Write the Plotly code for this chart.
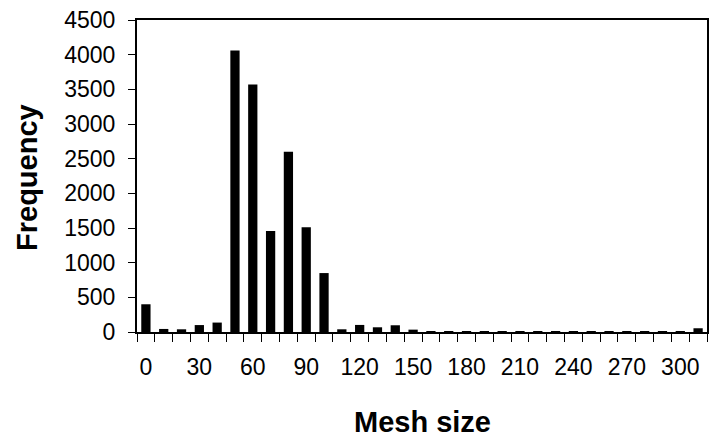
import plotly.graph_objects as go

categories = [str(v) for v in range(0, 310, 10)] + ["More"]
frequency = [400, 44, 39, 100, 136, 4060, 3570, 1455, 2600, 1510, 850,
             39, 102, 68, 97, 34,
             8, 10, 12, 8, 10, 12, 8, 10, 12, 10, 8, 6, 6, 5, 5,
             54]
tick_labels = ["0", "30", "60", "90", "120", "150", "180", "210", "240", "270", "300"]
y_ticks = list(range(0, 5000, 500))

x_pos = list(range(len(categories)))
tick_pos = [categories.index(t) for t in tick_labels]

fig = go.Figure(go.Bar(x=x_pos, y=frequency, marker=dict(color="black", line=dict(width=0)),
                       hovertext=categories))

font_family = "Liberation Sans, Arial, sans-serif"
fig.update_layout(
    width=710, height=437,
    margin=dict(l=137, r=3, t=20, b=105, autoexpand=False),
    plot_bgcolor="white", paper_bgcolor="white",
    bargap=0.48,
    showlegend=False,
    font=dict(family=font_family, color="black", size=23),
)
fig.update_xaxes(
    range=[-0.5, len(categories) - 0.5],
    tickmode="array", tickvals=tick_pos, ticktext=tick_labels,
    ticks="", ticklabelstandoff=14,
    tickfont=dict(size=23, family=font_family, color="black"),
    minor=dict(tick0=-0.5, dtick=1, ticks="outside", ticklen=8, tickcolor="black", tickwidth=1.2),
    showline=True, linecolor="black", linewidth=1.5, mirror=True,
    showgrid=False, zeroline=False, automargin=False,
)
fig.update_yaxes(
    range=[0, 4500],
    tickmode="array", tickvals=y_ticks,
    ticks="outside", ticklen=7, tickcolor="black", tickwidth=1.2,
    ticklabelstandoff=8,
    tickfont=dict(size=23, family=font_family, color="black"),
    showline=True, linecolor="black", linewidth=2, mirror=True,
    showgrid=False, zeroline=False, automargin=False,
)
fig.add_annotation(text="<b>Mesh size</b>", xref="paper", yref="paper",
                   x=(422 - 137) / 570, y=-(422 - 332) / 312, xanchor="center", yanchor="middle",
                   showarrow=False, font=dict(size=29, family=font_family, color="black"))
fig.add_annotation(text="<b>Frequency</b>", xref="paper", yref="paper",
                   x=-(137 - 27) / 570, y=(332 - 178) / 312, xanchor="center", yanchor="middle",
                   textangle=-90, showarrow=False, font=dict(size=29, family=font_family, color="black"))

fig.write_html("out.html", config={"displayModeBar": False},
               post_script="document.body.style.margin='0';document.body.style.overflow='hidden';")
